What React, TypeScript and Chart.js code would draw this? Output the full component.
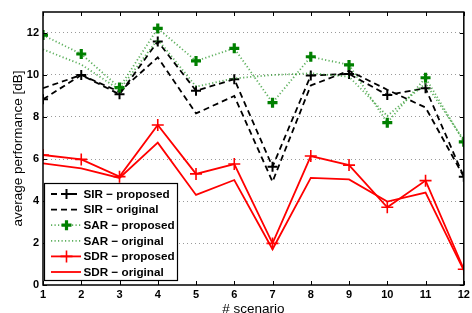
import React, { useEffect, useRef } from "react";
import { Chart, registerables } from "chart.js";
Chart.register(...registerables);

// ---- data ----
const scenarios = [1, 2, 3, 4, 5, 6, 7, 8, 9, 10, 11, 12];
const sirProposed = [8.84, 10.0, 9.08, 11.6, 9.25, 9.8, 5.63, 9.98, 10.05, 9.05, 9.37, 5.16];
const sirOriginal = [9.37, 10.0, 9.2, 10.84, 8.17, 9.0, 4.92, 9.5, 10.2, 9.3, 8.45, 5.16];
const sarProposed = [11.9, 11.0, 9.4, 12.22, 10.67, 11.27, 8.68, 10.87, 10.48, 7.73, 9.87, 6.82];
const sarOriginal = [11.22, 10.5, 9.3, 11.7, 9.45, 9.84, 10.0, 10.08, 9.92, 8.05, 9.6, 6.9];
const sdrProposed = [6.19, 5.98, 5.16, 7.62, 5.29, 5.76, 1.98, 6.14, 5.71, 3.7, 4.97, 0.75];
const sdrOriginal = [5.79, 5.55, 5.1, 6.78, 4.29, 5.0, 1.7, 5.1, 5.03, 3.97, 4.4, 0.7];
const yTickValues = [0, 2, 4, 6, 8, 10, 12];
const seriesLabels = [
  "SIR \u2212 proposed",
  "SIR \u2212 original",
  "SAR \u2212 proposed",
  "SAR \u2212 original",
  "SDR \u2212 proposed",
  "SDR \u2212 original",
];
const xTitle = "# scenario";
const yTitle = "average performance [dB]";

const FONT = "'Liberation Sans', Arial, Helvetica, sans-serif";
const GREEN = "rgb(0,128,0)";
const DOT_GREEN = "rgba(40,150,40,0.75)";

type Style = {
  color: string;
  dash: number[];
  width: number;
  marker: boolean;
  markerColor: string;
  markerWidth: number;
  markerRadius: number;
};

const styles: Style[] = [
  { color: "#000", dash: [6, 4], width: 1.8, marker: true, markerColor: "#000", markerWidth: 2, markerRadius: 5 },
  { color: "#000", dash: [6, 4], width: 1.8, marker: false, markerColor: "#000", markerWidth: 0, markerRadius: 0 },
  { color: DOT_GREEN, dash: [1.2, 2.3], width: 1.8, marker: true, markerColor: GREEN, markerWidth: 3.2, markerRadius: 5 },
  { color: DOT_GREEN, dash: [1.2, 2.3], width: 1.8, marker: false, markerColor: GREEN, markerWidth: 0, markerRadius: 0 },
  { color: "#ff0000", dash: [], width: 1.8, marker: true, markerColor: "#ff0000", markerWidth: 1.6, markerRadius: 6 },
  { color: "#ff0000", dash: [], width: 1.8, marker: false, markerColor: "#ff0000", markerWidth: 0, markerRadius: 0 },
];

const seriesData = [sirProposed, sirOriginal, sarProposed, sarOriginal, sdrProposed, sdrOriginal];

const framePlugin = {
  id: "matlabFrame",
  afterDraw(chart: any) {
    const ctx: CanvasRenderingContext2D = chart.ctx;
    const a = chart.chartArea;
    const xs = chart.scales.x;
    const ys = chart.scales.y;
    ctx.save();
    // frame
    ctx.strokeStyle = "#000";
    ctx.lineWidth = 1.5;
    ctx.setLineDash([]);
    ctx.strokeRect(a.left, a.top, a.right - a.left, a.bottom - a.top);
    // inward ticks
    ctx.lineWidth = 1;
    const tl = 4;
    ctx.beginPath();
    for (const v of scenarios) {
      const px = Math.round(xs.getPixelForValue(v)) + 0.5;
      ctx.moveTo(px, a.bottom);
      ctx.lineTo(px, a.bottom - tl);
      ctx.moveTo(px, a.top);
      ctx.lineTo(px, a.top + tl);
    }
    for (const v of yTickValues) {
      const py = Math.round(ys.getPixelForValue(v)) + 0.5;
      ctx.moveTo(a.left, py);
      ctx.lineTo(a.left + tl, py);
      ctx.moveTo(a.right, py);
      ctx.lineTo(a.right - tl, py);
    }
    ctx.stroke();

    // axis titles
    ctx.fillStyle = "#000";
    ctx.font = `13.5px ${FONT}`;
    ctx.textAlign = "center";
    ctx.textBaseline = "alphabetic";
    ctx.fillText(xTitle, (a.left + a.right) / 2, 313);
    ctx.save();
    ctx.translate(22, (a.top + a.bottom) / 2);
    ctx.rotate(-Math.PI / 2);
    ctx.fillText(yTitle, 0, 0);
    ctx.restore();

    // legend
    const bx = 44.5, by = 183.5, bw = 133, bh = 97;
    ctx.fillStyle = "#fff";
    ctx.fillRect(bx, by, bw, bh);
    ctx.strokeStyle = "#000";
    ctx.lineWidth = 1.2;
    ctx.strokeRect(bx, by, bw, bh);
    const rowY0 = 194, rowStep = 15.6;
    ctx.font = `bold 11.7px ${FONT}`;
    ctx.textAlign = "left";
    ctx.textBaseline = "middle";
    styles.forEach((s, i) => {
      const y = rowY0 + i * rowStep;
      ctx.save();
      ctx.strokeStyle = s.color;
      ctx.lineWidth = s.width;
      ctx.setLineDash(s.dash);
      ctx.beginPath();
      ctx.moveTo(51, y);
      ctx.lineTo(81, y);
      ctx.stroke();
      ctx.setLineDash([]);
      if (s.marker) {
        ctx.strokeStyle = s.markerColor;
        ctx.lineWidth = s.markerWidth;
        const r = s.markerRadius;
        ctx.beginPath();
        ctx.moveTo(66.5 - r, y);
        ctx.lineTo(66.5 + r, y);
        ctx.moveTo(66.5, y - r);
        ctx.lineTo(66.5, y + r);
        ctx.stroke();
      }
      ctx.restore();
      ctx.fillStyle = "#000";
      ctx.fillText(seriesLabels[i], 83.5, y + 0.5);
    });
    ctx.restore();
  },
};

export default function App() {
  const ref = useRef<HTMLCanvasElement>(null);
  useEffect(() => {
    document.body.style.margin = "0";
    const canvas = ref.current!;
    const datasets = seriesData.map((arr, i) => {
      const s = styles[i];
      return {
        label: seriesLabels[i],
        data: scenarios.map((x, j) => ({ x, y: arr[j] })),
        borderColor: s.color,
        borderWidth: s.width,
        borderDash: s.dash,
        backgroundColor: s.markerColor,
        pointStyle: "cross",
        pointRadius: s.marker ? s.markerRadius : 0,
        pointHoverRadius: 0,
        pointBorderColor: s.markerColor,
        pointBorderWidth: s.markerWidth,
        fill: false,
        tension: 0,
        order: 6 - i,
      };
    });
    const chart = new Chart(canvas, {
      type: "line",
      data: { datasets },
      options: {
        animation: false,
        responsive: false,
        devicePixelRatio: 1,
        layout: { padding: { top: 12, right: 6, left: 0, bottom: 0 } },
        plugins: {
          legend: { display: false },
          title: { display: false },
          tooltip: { enabled: false },
        },
        scales: {
          x: {
            type: "linear",
            min: 1,
            max: 12,
            ticks: {
              stepSize: 1,
              color: "#000",
              font: { family: FONT, size: 11, weight: "bold" },
              padding: 3,
              maxRotation: 0,
            },
            grid: { display: false, drawTicks: false },
            border: { display: false },
            afterFit: (s: any) => {
              s.height = 28;
              s.paddingLeft = 0;
              s.paddingRight = 0;
            },
          },
          y: {
            type: "linear",
            min: 0,
            max: 13,
            ticks: {
              stepSize: 2,
              color: "#000",
              font: { family: FONT, size: 11, weight: "bold" },
              padding: 4,
            },
            afterBuildTicks: (s: any) => {
              s.ticks = yTickValues.map((v) => ({ value: v }));
            },
            grid: {
              display: true,
              drawTicks: false,
              color: (c: any) => (c.tick && c.tick.value === 0 ? "rgba(0,0,0,0)" : "#9a9a9a"),
              lineWidth: 1,
            },
            border: { display: false, dash: [1, 3] },
            afterFit: (s: any) => {
              s.width = 43;
              s.paddingTop = 0;
              s.paddingBottom = 0;
            },
          },
        },
      },
      plugins: [framePlugin],
    } as any);
    return () => chart.destroy();
  }, []);
  return (
    <div style={{ width: 472, height: 313 }}>
      <canvas ref={ref} width={472} height={313} style={{ display: "block", width: 472, height: 313 }} />
    </div>
  );
}
